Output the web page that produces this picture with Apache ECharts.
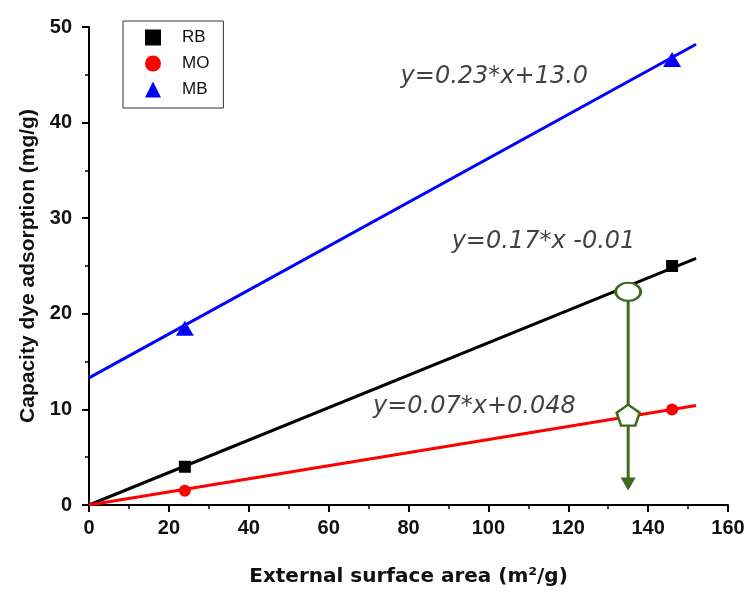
<!DOCTYPE html>
<html>
<head>
<meta charset="utf-8">
<script src="https://cdn.jsdelivr.net/npm/echarts@6/dist/echarts.min.js"></script>
<style>
  html, body { margin: 0; padding: 0; background: #fff; }
  #chart { width: 748px; height: 592px; }
</style>
</head>
<body>
<div id="chart"></div>
<script>
// measured points (x = external surface area, y = capacity)
var pointX = [24, 146];
var rbValues = [4.0, 25.0];
var moValues = [1.5, 10.0];
var mbValues = [18.5, 46.6];

// fitted lines, read at the line ends
var fitX = [0, 152];
var rbFit = [0, 25.8];
var moFit = [0, 10.4];
var mbFit = [13.3, 48.2];

// green guide: circle on RB line, pentagon on MO line, arrow end
var guideX = 135;
var guideY = [22.3, 9.4, 2.2];

// equation labels: [x, y, text]
var equations = [
    [101.5, 44.8, 'y=0.23*x+13.0'],
    [113.8, 27.5, 'y=0.17*x -0.01'],
    [96.5, 10.3, 'y=0.07*x+0.048']
];

var green = '#3d6a1f';
var font = '"Liberation Sans", Arial, sans-serif';

function pairs(xs, ys) {
    return xs.map(function (x, i) { return [x, ys[i]]; });
}

var chart = echarts.init(document.getElementById('chart'));

var axisCommon = {
    axisLine: { lineStyle: { color: '#000', width: 2 } },
    axisTick: { length: 7, lineStyle: { color: '#000', width: 2 } },
    minorTick: { show: true, splitNumber: 2, length: 4, lineStyle: { color: '#000', width: 1.5 } },
    splitLine: { show: false },
    axisLabel: { color: '#111', fontSize: 20, fontWeight: 'bold', fontFamily: font },
    nameLocation: 'middle'
};

var option = {
    animation: false,
    backgroundColor: '#fff',
    grid: { left: 89, right: 20, top: 27, bottom: 85 },
    legend: {
        orient: 'vertical',
        left: 123,
        top: 21,
        itemWidth: 16,
        itemHeight: 16,
        itemGap: 9,
        padding: [8, 14, 10, 22],
        borderColor: '#333',
        borderWidth: 1,
        textStyle: { fontSize: 17, color: '#111', fontFamily: font, padding: [0, 0, 0, 16] },
        data: [
            { name: 'RB', icon: 'rect' },
            { name: 'MO', icon: 'circle' },
            { name: 'MB', icon: 'triangle' }
        ]
    },
    xAxis: Object.assign({}, axisCommon, {
        type: 'value',
        min: 0,
        max: 160,
        interval: 20,
        axisLabel: Object.assign({}, axisCommon.axisLabel, { margin: 13 }),
        name: 'External surface area (m²/g)',
        nameGap: 62,
        nameTextStyle: { color: '#111', fontSize: 20, fontWeight: 'bold', fontFamily: '"DejaVu Sans", sans-serif' }
    }),
    yAxis: Object.assign({}, axisCommon, {
        type: 'value',
        min: 0,
        max: 50,
        interval: 10,
        axisLabel: Object.assign({}, axisCommon.axisLabel, { margin: 17 }),
        name: 'Capacity dye adsorption (mg/g)',
        nameGap: 48,
        nameTextStyle: { color: '#111', fontSize: 21, fontWeight: 'bold', fontFamily: font }
    }),
    series: [
        {
            name: 'RB', type: 'line', data: pairs(fitX, rbFit), showSymbol: false,
            symbol: 'none', lineStyle: { color: '#000', width: 3 }, itemStyle: { color: '#000' }
        },
        {
            name: 'MO', type: 'line', data: pairs(fitX, moFit), showSymbol: false,
            symbol: 'none', lineStyle: { color: '#ff0000', width: 3 }, itemStyle: { color: '#ff0000' }
        },
        {
            name: 'MB', type: 'line', data: pairs(fitX, mbFit), showSymbol: false,
            symbol: 'none', lineStyle: { color: '#0000ff', width: 3 }, itemStyle: { color: '#0000ff' }
        },
        {
            name: 'RB', type: 'scatter', data: pairs(pointX, rbValues),
            symbol: 'rect', symbolSize: 12, itemStyle: { color: '#000', opacity: 1 }
        },
        {
            name: 'MO', type: 'scatter', data: pairs(pointX, moValues),
            symbol: 'circle', symbolSize: 12, itemStyle: { color: '#ff0000', opacity: 1 }
        },
        {
            name: 'MB', type: 'scatter', data: pairs(pointX, mbValues),
            symbol: 'triangle', symbolSize: [18, 15], itemStyle: { color: '#0000ff', opacity: 1 }
        },
        // green vertical guide with arrow head
        {
            type: 'line', z: 5,
            data: [
                { value: [guideX, guideY[0]], symbol: 'none' },
                { value: [guideX, guideY[2]], symbol: 'triangle', symbolSize: [15, 13], symbolRotate: 180 }
            ],
            lineStyle: { color: green, width: 3 },
            itemStyle: { color: green }
        },
        {
            type: 'scatter', z: 6,
            data: [
                { value: [guideX, guideY[0]], symbol: 'path://M0,8A11,8,0,1,1,22,8A11,8,0,1,1,0,8Z', symbolSize: [25, 18] },
                { value: [guideX, guideY[1]], symbol: 'path://M10,0L20,7.3L16.2,19L3.8,19L0,7.3Z', symbolSize: [23, 21] }
            ],
            itemStyle: { color: '#fff', borderColor: green, borderWidth: 2.5, opacity: 1 }
        },
        // equation labels
        {
            type: 'scatter', z: 4, symbol: 'circle', symbolSize: 1, silent: true,
            itemStyle: { color: 'rgba(0,0,0,0)' },
            data: equations.map(function (e) { return { value: [e[0], e[1]], name: e[2] }; }),
            label: {
                show: true,
                position: 'inside',
                formatter: '{b}',
                color: '#111',
                fontSize: 24,
                fontStyle: 'italic',
                fontFamily: '"DejaVu Sans", sans-serif'
            }
        }
    ]
};

chart.setOption(option);
</script>
</body>
</html>
